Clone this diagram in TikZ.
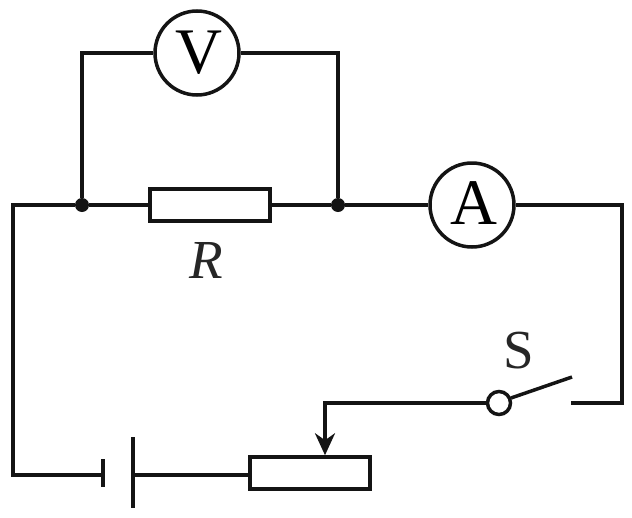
\documentclass[tikz,border=0pt]{standalone}
\usepackage{fontspec}
\setmainfont{Liberation Serif}
\usetikzlibrary{positioning,arrows.meta}
\tikzset{
  wire/.style={line width=3.5pt, line cap=butt, line join=miter, color=black!92},
  meter/.style={draw=black!92, circle, line width=3.5pt, fill=white, minimum size=84pt, inner sep=0pt, font=\fontsize{65}{65}\selectfont},
  resistor/.style={draw=black!92, rectangle, line width=3.5pt, fill=white, minimum width=120pt, minimum height=32pt, inner sep=0pt},
  junction/.style={circle, fill=black!92, minimum size=14pt, inner sep=0pt},
  contact/.style={draw=black!92, circle, line width=3.5pt, fill=white, minimum size=23pt, inner sep=0pt},
  caption/.style={text=black!85, inner sep=0pt, font=\fontsize{55}{55}\selectfont}
}
\begin{document}
\begin{tikzpicture}[x=1pt, y=-1pt]
\useasboundingbox (0,0) rectangle (632,517);

% Define nodes
\node[meter] (voltmeter) at (197,53) {\kern3pt\raisebox{-2pt}{V}};
\node[meter] (ammeter) at (472,205) {\kern3pt\raisebox{3pt}{A}};
\node[resistor] (res) at (210,205) {};
\node[resistor] (rheostat) at (310,473) {};
\node[junction] (dotleft) at (82,205) {};
\node[junction] (dotright) at (338,205) {};
\node[contact] (contactS) at (499,403) {};
\node[caption] (labelR) at (206,260) {\textit{R}};
\node[caption] (labelS) at (519,351) {S};

% Corners and free ends
\coordinate (cellshort) at (103,475);
\coordinate (celllong) at (133,475);
\coordinate (bladeend) at (572,377);
\coordinate (contactend) at (571,403);

% Draw wires
\draw[wire] (dotleft) |- (voltmeter);
\draw[wire] (dotright) |- (voltmeter);
\draw[wire] (dotleft) -- (res);
\draw[wire] (res) -- (dotright);
\draw[wire] (dotright) -- (ammeter);
\draw[wire] (ammeter.east) -- (622,205) |- (contactend);
\draw[wire] (dotleft) -- (13,205) |- (cellshort);
\draw[wire] (celllong) -- (celllong -| rheostat.west);
\draw[wire, -{Stealth[length=22pt, width=20pt, inset=7pt]}] (contactS) -| (rheostat.north -| 325,0);
\draw[wire] (contactS) ++(12,-5) -- (bladeend);

% Draw cell plates
\draw[wire] (cellshort) ++(0,-16) -- ++(0,28);
\draw[wire] (celllong) ++(0,-38) -- ++(0,71);

\end{tikzpicture}
\end{document}
